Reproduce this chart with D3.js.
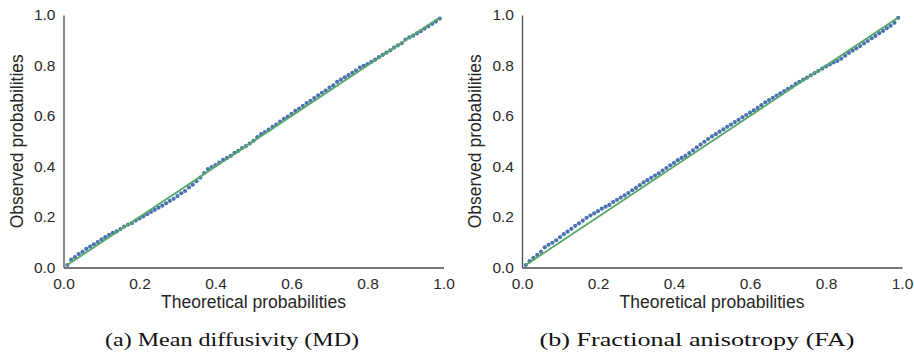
<!DOCTYPE html>
<html>
<head>
<meta charset="utf-8">
<script src="https://cdn.jsdelivr.net/npm/d3@7"></script>
<style>
  body { margin: 0; background: #fff; }
  svg { display: block; }
  .tick text { font-family: "Liberation Sans", Arial, sans-serif; font-size: 15.5px; fill: #2b2b2b; }
  .axis path.domain { stroke: #4a4a4a; stroke-width: 1.3; }
  .label { font-family: "Liberation Sans", Arial, sans-serif; font-size: 17.5px; fill: #262626; }
  .caption { font-family: "Liberation Serif", "DejaVu Serif", serif; font-size: 19.5px; fill: #111; }
</style>
</head>
<body>
<script>
// theoretical probabilities (shared x values of both panels)
var theoretical = [
  0.01, 0.02, 0.03, 0.04, 0.05, 0.06, 0.07, 0.08, 0.09, 0.10,
  0.11, 0.12, 0.13, 0.14, 0.15, 0.16, 0.17, 0.18, 0.19, 0.20,
  0.21, 0.22, 0.23, 0.24, 0.25, 0.26, 0.27, 0.28, 0.29, 0.30,
  0.31, 0.32, 0.33, 0.34, 0.35, 0.36, 0.37, 0.38, 0.39, 0.40,
  0.41, 0.42, 0.43, 0.44, 0.45, 0.46, 0.47, 0.48, 0.49, 0.50,
  0.51, 0.52, 0.53, 0.54, 0.55, 0.56, 0.57, 0.58, 0.59, 0.60,
  0.61, 0.62, 0.63, 0.64, 0.65, 0.66, 0.67, 0.68, 0.69, 0.70,
  0.71, 0.72, 0.73, 0.74, 0.75, 0.76, 0.77, 0.78, 0.79, 0.80,
  0.81, 0.82, 0.83, 0.84, 0.85, 0.86, 0.87, 0.88, 0.89, 0.90,
  0.91, 0.92, 0.93, 0.94, 0.95, 0.96, 0.97, 0.98, 0.99
];

// observed probabilities, mean diffusivity
var observedMD = [
  0.010, 0.031, 0.041, 0.053, 0.062, 0.074, 0.083, 0.092, 0.101, 0.111,
  0.120, 0.129, 0.137, 0.143, 0.152, 0.162, 0.170, 0.176, 0.186, 0.194,
  0.202, 0.211, 0.220, 0.228, 0.237, 0.245, 0.254, 0.264, 0.272, 0.283,
  0.294, 0.303, 0.317, 0.328, 0.342, 0.356, 0.374, 0.390, 0.398, 0.406,
  0.415, 0.426, 0.434, 0.442, 0.454, 0.462, 0.473, 0.481, 0.491, 0.502,
  0.516, 0.528, 0.536, 0.546, 0.557, 0.566, 0.578, 0.589, 0.598, 0.609,
  0.620, 0.629, 0.640, 0.651, 0.660, 0.671, 0.682, 0.692, 0.701, 0.712,
  0.721, 0.735, 0.744, 0.753, 0.762, 0.771, 0.780, 0.792, 0.799, 0.806,
  0.814, 0.823, 0.833, 0.842, 0.851, 0.860, 0.871, 0.880, 0.888, 0.903,
  0.911, 0.918, 0.927, 0.936, 0.946, 0.955, 0.965, 0.974, 0.986
];

// observed probabilities, fractional anisotropy
var observedFA = [
  0.010, 0.025, 0.038, 0.050, 0.062, 0.080, 0.090, 0.098, 0.108, 0.120,
  0.132, 0.142, 0.153, 0.165, 0.175, 0.186, 0.197, 0.206, 0.214, 0.223,
  0.233, 0.241, 0.248, 0.259, 0.268, 0.277, 0.286, 0.295, 0.306, 0.315,
  0.326, 0.337, 0.346, 0.355, 0.364, 0.373, 0.384, 0.394, 0.405, 0.414,
  0.425, 0.434, 0.442, 0.453, 0.464, 0.476, 0.487, 0.498, 0.509, 0.519,
  0.528, 0.538, 0.547, 0.557, 0.566, 0.576, 0.585, 0.595, 0.604, 0.613,
  0.622, 0.632, 0.643, 0.654, 0.663, 0.672, 0.681, 0.690, 0.699, 0.708,
  0.716, 0.727, 0.735, 0.744, 0.752, 0.761, 0.770, 0.779, 0.788, 0.796,
  0.804, 0.812, 0.818, 0.827, 0.839, 0.850, 0.859, 0.868, 0.877, 0.888,
  0.897, 0.908, 0.917, 0.928, 0.937, 0.948, 0.957, 0.969, 0.989
];

var tickValues = [0, 0.2, 0.4, 0.6, 0.8, 1.0];
var refLine = [0.01, 0.99];

var panels = [
  {observed: observedMD, caption: '(a) Mean diffusivity (MD)', left: 63.5, captionX: 232, captionW: 254},
  {observed: observedFA, caption: '(b) Fractional anisotropy (FA)', left: 522, captionX: 697, captionW: 315}
];

var W = 914, H = 353;
var plotW = 380, plotTop = 15, plotBottom = 267.5;

var svg = d3.select('body').append('svg')
  .attr('width', W)
  .attr('height', H);

panels.forEach(function(p) {
  var x = d3.scaleLinear().domain([0, 1]).range([p.left, p.left + plotW]);
  var y = d3.scaleLinear().domain([0, 1]).range([plotBottom, plotTop]);

  var g = svg.append('g');

  // x axis
  g.append('g')
    .attr('class', 'axis')
    .attr('transform', 'translate(0,' + plotBottom + ')')
    .call(d3.axisBottom(x).tickValues(tickValues).tickFormat(d3.format('.1f'))
      .tickSize(0).tickPadding(10));

  // y axis
  g.append('g')
    .attr('class', 'axis')
    .attr('transform', 'translate(' + p.left + ',0)')
    .call(d3.axisLeft(y).tickValues(tickValues).tickFormat(d3.format('.1f'))
      .tickSize(0).tickPadding(8));

  // P-P points
  g.selectAll('.dot')
    .data(theoretical)
  .enter().append('circle')
    .attr('class', 'dot')
    .attr('cx', function(d) { return x(d); })
    .attr('cy', function(d, i) { return y(p.observed[i]); })
    .attr('r', 2.1)
    .attr('fill', '#4c72b0');

  // reference line, drawn over the points
  g.append('line')
    .attr('x1', x(refLine[0]))
    .attr('y1', y(refLine[0]))
    .attr('x2', x(refLine[1]))
    .attr('y2', y(refLine[1]))
    .attr('stroke', '#55a868')
    .attr('stroke-width', 1.8);

  // axis labels
  g.append('text')
    .attr('class', 'label')
    .attr('x', p.left + plotW / 2)
    .attr('y', 308)
    .attr('text-anchor', 'middle')
    .text('Theoretical probabilities');

  g.append('text')
    .attr('class', 'label')
    .attr('transform', 'translate(' + (p.left - 41) + ',' + ((plotTop + plotBottom) / 2) + ') rotate(-90)')
    .attr('text-anchor', 'middle')
    .text('Observed probabilities');

  // caption
  g.append('text')
    .attr('class', 'caption')
    .attr('x', p.captionX)
    .attr('y', 346)
    .attr('text-anchor', 'middle')
    .attr('textLength', p.captionW)
    .attr('lengthAdjust', 'spacingAndGlyphs')
    .text(p.caption);
});
</script>
</body>
</html>
